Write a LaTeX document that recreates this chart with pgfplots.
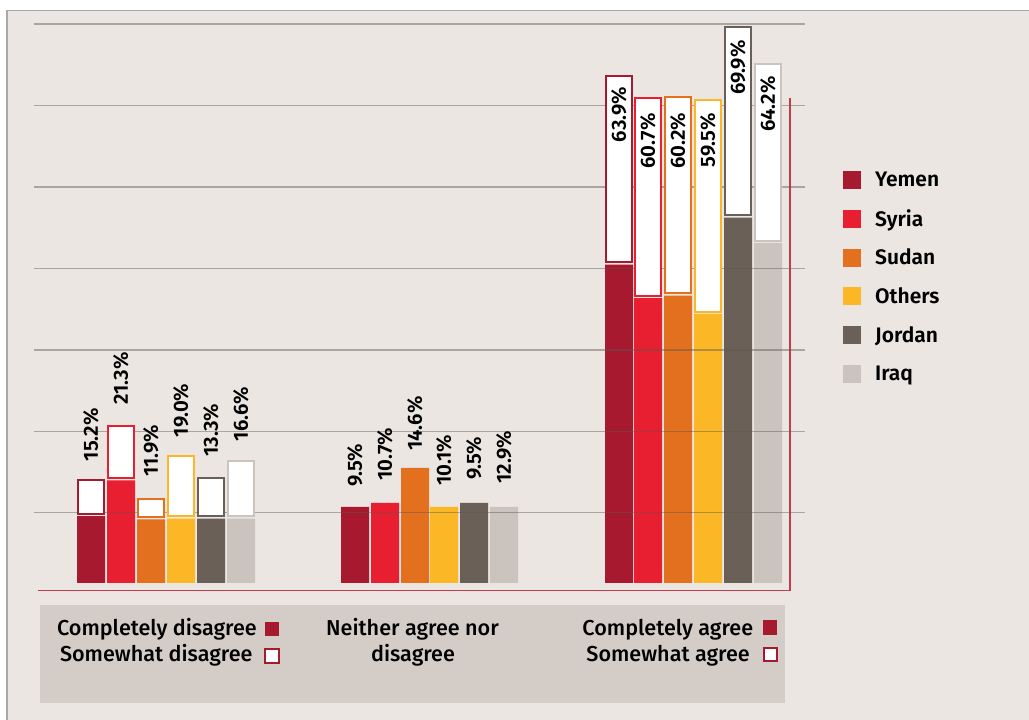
\documentclass[border=0pt]{standalone}
\usepackage{pgfplots}
\pgfplotsset{compat=1.18}
\usepackage{pgfplotstable}
\usepackage{fontspec}
\setmainfont{Fira Sans}
\newfontfamily\fmed{Fira Sans Medium}
\newfontfamily\fsemi{Fira Sans SemiBold}

\definecolor{cYemen}{HTML}{A6192E}
\definecolor{cSyria}{HTML}{E81F30}
\definecolor{cSudan}{HTML}{E2701F}
\definecolor{cOthers}{HTML}{FBB725}
\definecolor{cJordan}{HTML}{6A6057}
\definecolor{cIraq}{HTML}{CBC3BE}
\definecolor{bg}{HTML}{EBE6E1}
\definecolor{panel}{HTML}{D4CCC7}
\definecolor{framec}{HTML}{C23B4F}
\definecolor{gridc}{HTML}{5E5650}
\definecolor{borderc}{HTML}{A8A8A8}

% x = bar centre (px); rows: disagree, neither, agree
% solid = completely, total = completely + somewhat; sh = label offset (pt)
\pgfplotstableread{
x   solid total label sh
91  8.4   13.0  15.2  18
355 9.55  9.55  9.5   20
619 40.0  63.7  63.9  -11
}\yemen
\pgfplotstableread{
x   solid total label sh
121 12.9  19.7  21.3  21
385 10.05 10.05 10.7  22
648 35.8  60.9  60.7  -15
}\syria
\pgfplotstableread{
x   solid total label sh
151 8.0   10.6  11.9  22
415 14.45 14.45 14.6  17
678 36.1  61.0  60.2  -15
}\sudan
\pgfplotstableread{
x   solid total label sh
181 8.1   15.9  19.0  19
444 9.55  9.55  10.1  21
708 33.8  60.7  59.5  -13.5
}\others
\pgfplotstableread{
x   solid total label sh
211 8.1   13.2  13.3  21
474 10.05 10.05 9.5   23
738 45.9  69.9  69.9  -13.5
}\jordan
\pgfplotstableread{
x   solid total label sh
241 8.1   15.3  16.6  20
504 9.55  9.55  12.9  23
768 42.7  65.2  64.2  -12
}\iraq

\pgfplotsset{
  base/.style={scale only axis, width=771pt, height=581.08pt,
    xmin=34, xmax=805, ymin=-1, ymax=72,
    at={(34pt,129.04pt)}, anchor=south west},
  solidbar/.style={ybar, bar width=28pt, bar shift=0pt, fill=#1, draw=none},
  lab/.style={draw=none, mark=none, point meta=explicit symbolic,
    nodes near coords={\pgfplotspointmeta\%},
    visualization depends on={\thisrow{sh}\as\sh},
    every node near coord/.append style={font=\fsemi\fontsize{20.5pt}{20.5pt}\selectfont,
      text=black, inner sep=0pt, yshift=\sh pt, rotate=90, anchor=#1}},
  labup/.style={lab=west, skip coords between index={2}{3}},
  labin/.style={lab=east, skip coords between index={0}{2}},
}

\newcommand\boxaxis[2]{%
\begin{axis}[base, hide axis, ybar stacked]
\addplot[draw=none, fill=none, bar width=26pt, bar shift=0pt,
  skip coords between index={1}{2}]
  table[x=x, y expr=\thisrow{solid}+0.3]{#1};
\addplot[fill=white, draw=#2, line width=2pt, bar width=26pt, bar shift=0pt,
  skip coords between index={1}{2}]
  table[x=x, y expr=\thisrow{total}-\thisrow{solid}-0.3]{#1};
\end{axis}}

\newcommand\labplots[1]{%
\addplot[labup] table[x=x, y=total, meta=label]{#1};
\addplot[labin] table[x=x, y=total, meta=label]{#1};}

\begin{document}
\begin{tikzpicture}
\useasboundingbox (0pt,0pt) rectangle (1029pt,720pt);
\fill[white] (0pt,0pt) rectangle (1029pt,720pt);
\fill[bg] (7pt,0pt) rectangle (1029pt,709.5pt);
\draw[borderc, line width=1.3pt] (7pt,0pt) -- (7pt,709.5pt) -- (1029pt,709.5pt);

% bottom panel
\fill[panel] (40pt,17pt) rectangle (785pt,115pt);
\begin{scope}[every node/.style={inner sep=0pt, font=\fmed\fontsize{21.6pt}{26pt}\selectfont}]
\node[anchor=base east] at (257pt,84.3pt) {Completely disagree};
\node[anchor=base east] at (252.7pt,58.3pt) {Somewhat disagree};
\node[anchor=base] at (412.5pt,84.3pt) {Neither agree nor};
\node[anchor=base] at (413pt,58.3pt) {disagree};
\node[anchor=base east] at (753.3pt,84.3pt) {Completely agree};
\node[anchor=base east] at (750pt,58.3pt) {Somewhat agree};
\end{scope}
\fill[cYemen] (265pt,83.5pt) rectangle (279pt,98pt);
\draw[cYemen, line width=2pt, fill=white] (265.3pt,57pt) rectangle (279pt,71.3pt);
\fill[cYemen] (763.3pt,85pt) rectangle (777pt,99.5pt);
\draw[cYemen, line width=2pt, fill=white] (763.5pt,58.5pt) rectangle (776.7pt,72pt);

% solid bars, grid on top, legend
\begin{axis}[base, axis on top,
  xtick=\empty, ytick={8.83,19.06,29.27,39.5,49.75,59.96,70.23},
  yticklabel={\phantom{0}},
  major tick length=0pt, axis line style={draw=none},
  ymajorgrids, major grid style={draw=gridc, opacity=0.45, line width=1.5pt},
  legend style={at={(1.04929,0.7406)}, anchor=north west, draw=none, fill=none,
    inner sep=0pt, row sep=0pt, column sep=0pt,
    font=\fsemi\fontsize{21pt}{21pt}\selectfont, nodes={inner sep=0pt},
    /tikz/every odd column/.append style={column sep=14pt}},
  legend cell align=left,
  legend image code/.code={\path[draw=none, fill=none] (0pt,-19.35pt) rectangle (18pt,19.35pt);
    \fill[#1] (0pt,-9pt) rectangle (18pt,9pt);},
]
\addplot[solidbar=cYemen] table[x=x, y=solid]{\yemen};
\addlegendentry{Yemen}
\addplot[solidbar=cSyria] table[x=x, y=solid]{\syria};
\addlegendentry{Syria}
\addplot[solidbar=cSudan] table[x=x, y=solid]{\sudan};
\addlegendentry{Sudan}
\addplot[solidbar=cOthers] table[x=x, y=solid]{\others};
\addlegendentry{Others}
\addplot[solidbar=cJordan] table[x=x, y=solid]{\jordan};
\addlegendentry{Jordan}
\addplot[solidbar=cIraq] table[x=x, y=solid]{\iraq};
\addlegendentry{Iraq}
\draw[framec, line width=2pt] (axis cs:38,-1) -- (axis cs:790,-1) -- (axis cs:790,60.93);
\end{axis}

% "somewhat" boxes
\boxaxis{\yemen}{cYemen}
\boxaxis{\syria}{cSyria}
\boxaxis{\sudan}{cSudan}
\boxaxis{\others}{cOthers}
\boxaxis{\jordan}{cJordan}
\boxaxis{\iraq}{cIraq}

% value labels
\begin{axis}[base, hide axis, clip=false]
\labplots{\yemen}
\labplots{\syria}
\labplots{\sudan}
\labplots{\others}
\labplots{\jordan}
\labplots{\iraq}
\end{axis}
\end{tikzpicture}
\end{document}
